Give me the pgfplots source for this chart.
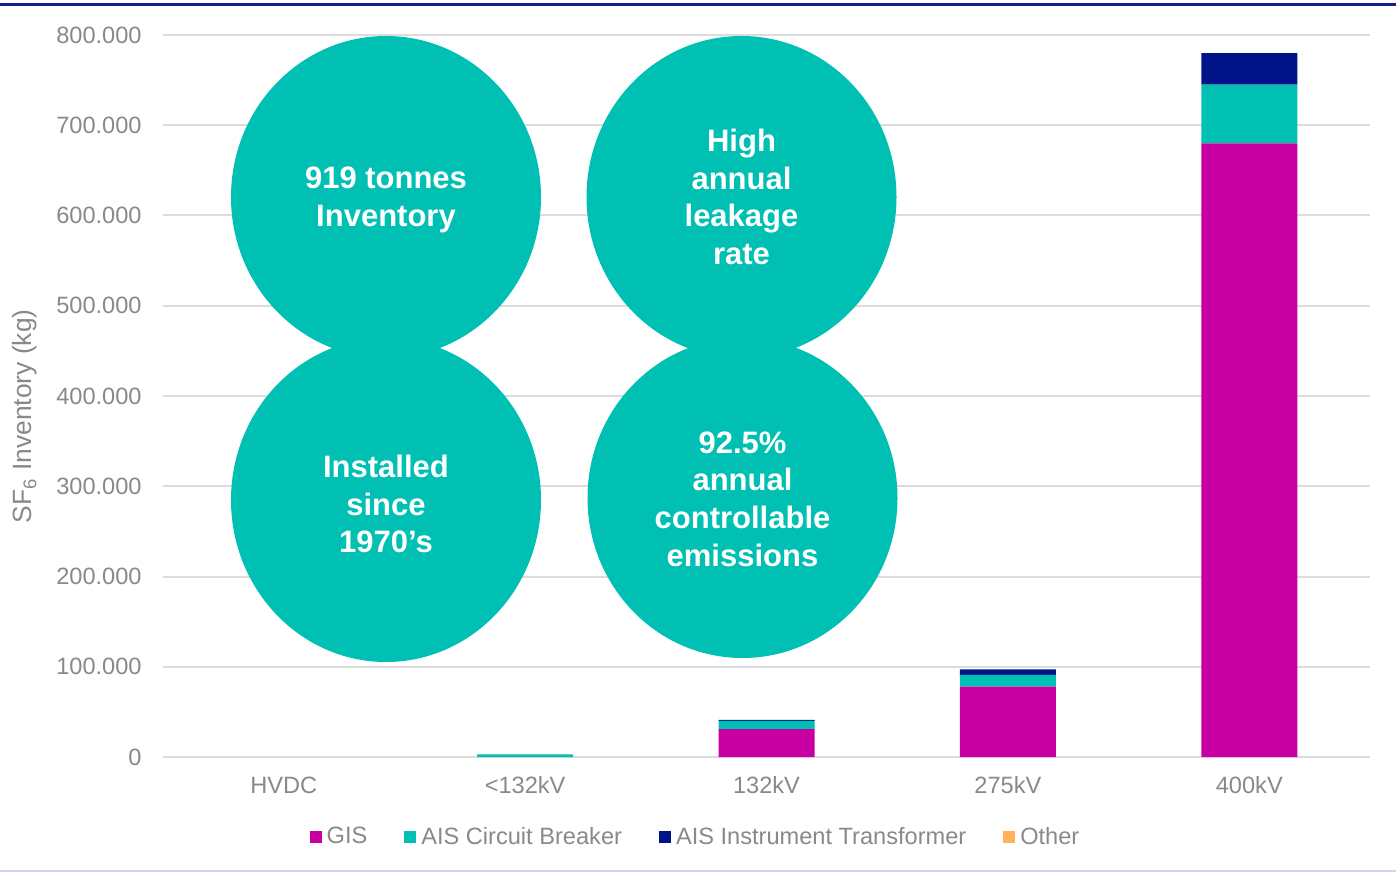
\documentclass[border=0pt]{standalone}
\usepackage{pgfplots}
\pgfplotsset{compat=1.18}
\usepackage{fontspec}
\setmainfont{Liberation Sans}
\definecolor{gis}{RGB}{200,0,161}
\definecolor{aiscb}{RGB}{0,191,179}
\definecolor{aisit}{RGB}{0,20,137}
\definecolor{other}{RGB}{255,178,91}
\definecolor{txtgrey}{RGB}{137,137,137}
\definecolor{gridgrey}{RGB}{220,220,220}
\definecolor{topblue}{RGB}{16,32,140}
\definecolor{botline}{RGB}{208,214,232}
\tikzset{bubtext/.style={text=white, align=center, font=\fontsize{15.5}{18.8}\selectfont\bfseries, inner sep=0pt}}
\begin{document}
\begin{tikzpicture}[x=1pt,y=1pt]
\path[use as bounding box] (0,0) rectangle (698,436.5);
\draw[topblue, line width=1.5pt] (0,434) -- (698,434);
\draw[botline, line width=0.6pt] (0,1) -- (698,1);
\begin{axis}[
  at={(81.5pt,58pt)}, anchor=south west,
  scale only axis, width=603.5pt, height=361pt,
  xmin=-0.5, xmax=4.5, ymin=0, ymax=800000,
  ybar stacked, bar width=48pt,
  xtick={0,1,2,3,4},
  xticklabels={HVDC,{<132kV},132kV,275kV,400kV},
  ytick={0,100000,200000,300000,400000,500000,600000,700000,800000},
  yticklabels={0,100.000,200.000,300.000,400.000,500.000,600.000,700.000,800.000},
  scaled y ticks=false,
  ymajorgrids, grid style={gridgrey, line width=1pt},
  axis line style={draw=none},
  major tick length=0pt, tick style={draw=none},
  yticklabel style={font=\fontsize{11.8}{14}\selectfont, text=txtgrey, anchor=east, inner sep=0pt, xshift=-10.5pt},
  xticklabel style={font=\fontsize{11.8}{14}\selectfont, text=txtgrey, anchor=base, inner sep=0pt, yshift=-18pt},
  ylabel={SF\textsubscript{6} Inventory (kg)},
  ylabel style={at={(rel axis cs:-0.1143,0.472)}, anchor=center, font=\fontsize{13.2}{15}\selectfont, text=txtgrey},
  legend columns=4,
  legend style={at={(0.4416,-0.1108)}, anchor=center, draw=none, fill=none,
    font=\fontsize{11.8}{14}\selectfont, text=txtgrey, inner sep=0pt,
    nodes={inner sep=1.5pt},
    /tikz/every odd column/.append style={column sep=1pt},
    /tikz/every even column/.append style={column sep=17pt}},
]
\addplot[fill=gis, draw=none, legend image code/.code={\fill[gis] (0pt,-3pt) rectangle (6pt,3pt);}]
  coordinates {(0,0) (1,0) (2,31000) (3,78000) (4,680000)};
\addplot[fill=aiscb, draw=none, legend image code/.code={\fill[aiscb] (0pt,-3pt) rectangle (6pt,3pt);}]
  coordinates {(0,0) (1,3000) (2,9000) (3,13000) (4,65000)};
\addplot[fill=aisit, draw=none, legend image code/.code={\fill[aisit] (0pt,-3pt) rectangle (6pt,3pt);}]
  coordinates {(0,0) (1,0) (2,1000) (3,6000) (4,35000)};
\addplot[fill=other, draw=none, legend image code/.code={\fill[other] (0pt,-3pt) rectangle (6pt,3pt);}]
  coordinates {(0,0) (1,0) (2,0) (3,0) (4,0)};
\legend{GIS,AIS Circuit Breaker,AIS Instrument Transformer,Other}
\end{axis}
\fill[aiscb] (193,338) ellipse [x radius=77.5, y radius=80.5];
\fill[aiscb] (370.75,338) ellipse [x radius=77.5, y radius=80.5];
\fill[aiscb] (193,186.5) ellipse [x radius=77.5, y radius=81];
\fill[aiscb] (371.25,187.5) ellipse [x radius=77.5, y radius=80];
\node[bubtext] at (193,336.5) {919 tonnes\\Inventory};
\node[bubtext] at (370.75,338) {High\\annual\\leakage\\rate};
\node[bubtext] at (193,184.5) {Installed\\since\\1970’s};
\node[bubtext] at (371.25,187) {92.5\%\\annual\\controllable\\emissions};
\end{tikzpicture}
\end{document}
